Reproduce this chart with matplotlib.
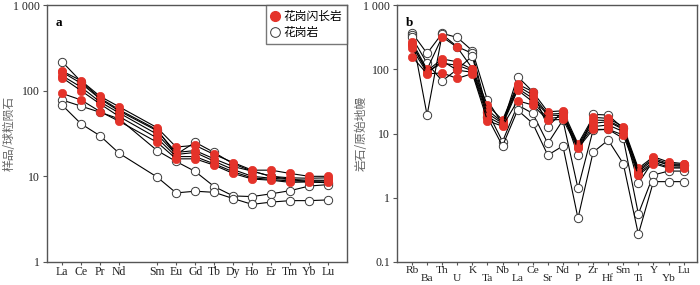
import matplotlib
matplotlib.use("Agg")
import matplotlib.pyplot as plt
from matplotlib.lines import Line2D
from matplotlib.ticker import FixedLocator, NullLocator

plt.rcParams['font.family'] = ['Liberation Serif', 'Noto Sans CJK SC', 'DejaVu Sans']

# ---------------- Panel a: chondrite-normalised REE ----------------
ree = ["La", "Ce", "Pr", "Nd", "Sm", "Eu", "Gd", "Tb", "Dy", "Ho", "Er", "Tm", "Yb", "Lu"]
ree_pos = [0, 1, 2, 3, 5, 6, 7, 8, 9, 10, 11, 12, 13, 14]

gd_ree = [
    [170, 131, 86, 65, 37, 22, 23, 18, 14.5, 11.8, 11.8, 10.8, 10.0, 10.0],
    [165, 122, 80, 58, 34, 19, 20, 16, 13.0, 11.5, 10.0, 9.6, 9.5, 9.6],
    [150, 110, 74, 55, 31, 18, 19, 15, 12.0, 10.0, 9.5, 9.2, 9.0, 9.0],
    [142, 100, 70, 50, 28, 17, 17, 14, 11.3, 9.6, 9.2, 8.8, 8.8, 8.8],
    [93, 78, 57, 44, 25, 16, 16, 13.5, 10.8, 9.3, 9.0, 8.5, 8.6, 8.5],
]
gr_ree = [
    [218, 128, 82, 60, 35, 18, 25, 19, 14.0, 11.5, 10.0, 9.2, 8.6, 8.4],
    [78, 66, 56, 47, 20, 14.9, 11.4, 7.6, 5.9, 5.8, 6.25, 6.8, 7.7, 8.0],
    [68, 41, 29.7, 18.6, 9.8, 6.4, 6.7, 6.5, 5.5, 4.7, 5.0, 5.2, 5.2, 5.3],
]

# ---------------- Panel b: primitive-mantle-normalised spider ----------------
tr = ["Rb", "Ba", "Th", "U", "K", "Ta", "Nb", "La", "Ce", "Sr", "Nd", "P",
      "Zr", "Hf", "Sm", "Ti", "Y", "Yb", "Lu"]

gd_tr = [
    [270, 100, 320, 220, 103, 27.8, 16.2, 59, 44.8, 21.8, 22.6, 6.9, 17.9, 17.2, 12.8, 2.87, 4.35, 3.6, 3.4],
    [239, 95, 145, 131, 100, 23.2, 15.0, 55, 39.7, 20.0, 20.6, 6.6, 16.2, 16.0, 12.0, 2.70, 4.10, 3.4, 3.3],
    [250, 92, 124, 116, 95, 20.6, 14.4, 50.6, 35.3, 19.4, 19.0, 6.4, 14.4, 15.3, 11.6, 2.55, 3.90, 3.2, 3.1],
    [212, 88, 135, 97, 90, 18.3, 13.6, 47.5, 31.3, 17.0, 18.3, 6.2, 12.8, 13.6, 10.7, 2.40, 3.60, 3.0, 3.0],
    [158, 85, 88, 72, 86, 15.8, 13.0, 32.4, 27.8, 16.2, 16.6, 5.9, 11.6, 11.6, 9.5, 2.26, 3.40, 2.9, 2.9],
]
gr_tr = [
    [371, 177, 363, 314, 195, 33, 14.0, 77, 45, 12.8, 22, 4.6, 19.9, 19.4, 12.0, 1.68, 3.8, 3.3, 3.2],
    [342, 19.4, 350, 225, 177, 22, 7.5, 27.8, 20.6, 7.0, 16.2, 1.4, 11.3, 11.6, 8.4, 0.56, 2.26, 2.6, 2.6],
    [315, 124, 66, 100, 161, 18, 6.4, 23.2, 14.4, 4.6, 6.4, 0.48, 5.1, 7.9, 3.4, 0.27, 1.78, 1.78, 1.78],
]

legend_labels = ["花岗闪长岩", "花岗岩"]

RED = "#E4332A"
EDGE = "#3a3a3a"
FRAME = "#555555"

fig = plt.figure(figsize=(7.0, 2.85), dpi=100)
axa = fig.add_axes([0.067, 0.081, 0.429, 0.901])
axb = fig.add_axes([0.567, 0.081, 0.429, 0.901])

ms = 6.0
lw = 0.8

def draw(ax, xs, filled, empty):
    for s in empty:
        ax.plot(xs, s, '-', color='black', lw=lw, marker='o', ms=ms,
                mfc='white', mec=EDGE, mew=0.7, zorder=2)
    for s in filled:
        ax.plot(xs, s, '-', color='black', lw=lw, marker='o', ms=ms,
                mfc=RED, mec=RED, mew=0.5, zorder=3)

draw(axa, ree_pos, gd_ree, gr_ree)
xb = list(range(len(tr)))
draw(axb, xb, gd_tr, gr_tr)

cjk = ['Noto Sans CJK SC', 'DejaVu Sans']

for ax in (axa, axb):
    ax.set_yscale('log')
    for sp in ax.spines.values():
        sp.set_color(FRAME)
        sp.set_linewidth(1.0)
    ax.yaxis.set_minor_locator(NullLocator())
    ax.tick_params(axis='both', which='major', direction='out', length=3,
                   width=0.8, color=FRAME, labelsize=8.5, labelcolor='#222222', pad=2)
    ax.tick_params(axis='x', length=2, pad=1.0)

axa.set_ylim(1, 1000)
axa.set_xlim(-0.8, 15.0)
axa.yaxis.set_major_locator(FixedLocator([1, 10, 100, 1000]))
axa.set_yticklabels(["1", "10", "100", "1 000"])
axa.set_xticks(ree_pos)
axa.set_xticklabels(ree)
axa.set_ylabel("样品/球粒陨石", family=cjk, fontsize=8.5, color='#666666')
axa.yaxis.set_label_coords(-0.105, 0.5)
axa.text(0.03, 0.955, "a", transform=axa.transAxes, fontsize=9.5,
         fontweight='bold', va='top', ha='left')

axb.set_ylim(0.1, 1000)
axb.set_xlim(-1.0, 18.9)
axb.yaxis.set_major_locator(FixedLocator([0.1, 1, 10, 100, 1000]))
axb.set_yticklabels(["0.1", "1", "10", "100", "1 000"])
axb.set_xticks(xb)
axb.set_xticklabels([t if i % 2 == 0 else "\n" + t for i, t in enumerate(tr)],
                    linespacing=0.8, fontsize=8.2)
axb.set_ylabel("岩石/原始地幔", family=cjk, fontsize=8.5, color='#666666')
axb.yaxis.set_label_coords(-0.097, 0.5)
axb.text(0.03, 0.955, "b", transform=axb.transAxes, fontsize=9.5,
         fontweight='bold', va='top', ha='left')

handles = [
    Line2D([], [], ls='none', marker='o', ms=ms + 1, mfc=RED, mec=RED),
    Line2D([], [], ls='none', marker='o', ms=ms + 1, mfc='white', mec=EDGE, mew=0.7),
]
leg = axa.legend(handles, legend_labels, loc='upper right', frameon=True,
                 fancybox=False, prop={'family': cjk, 'size': 8.5},
                 handlelength=0.8, handletextpad=0.3, borderpad=0.4,
                 labelspacing=0.25, borderaxespad=0.0)
leg.get_frame().set_edgecolor(FRAME)
leg.get_frame().set_linewidth(1.0)

fig.savefig("out.png", dpi=100)
